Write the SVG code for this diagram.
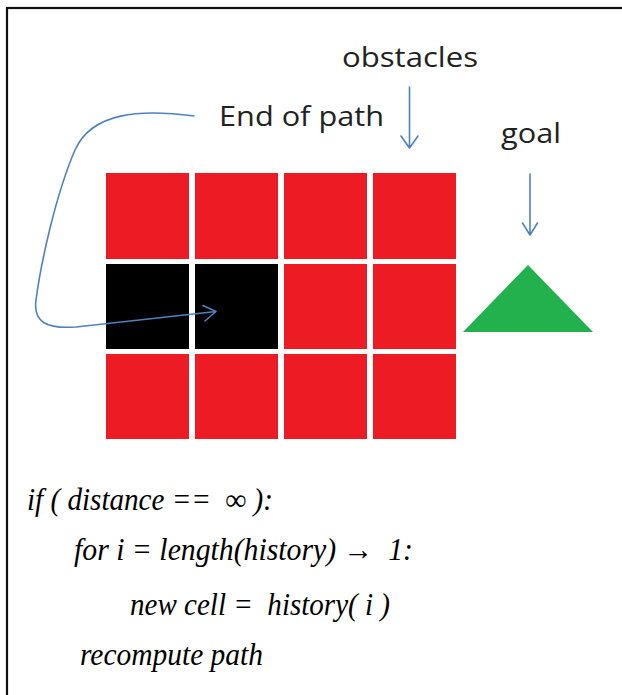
<svg xmlns="http://www.w3.org/2000/svg" width="622" height="695" viewBox="0 0 622 695">
  <style>
    .label { font-family: "Open Sans", "Noto Sans", sans-serif; font-size: 27px; fill: #222; }
    .code { font-family: "Liberation Serif", "Times New Roman", serif; font-style: italic; font-size: 31px; fill: #000; white-space: pre; }
    .obstacle { fill: #ED1C24; }
    .visited { fill: #000; }
    .pointer { fill: none; stroke: #4F81BD; stroke-width: 1.6; stroke-linecap: round; stroke-linejoin: round; }
  </style>

  <rect width="622" height="695" fill="#fff"/>
  <!-- outer frame (right and bottom edges run past the canvas) -->
  <rect x="7" y="8" width="700" height="800" fill="none" stroke="#111" stroke-width="2.2"/>

  <!-- grid of cells -->
  <g id="grid">
    <g id="cell-r1c1"><rect class="obstacle" x="106" y="173" width="83" height="86"/></g>
    <g id="cell-r1c2"><rect class="obstacle" x="195" y="173" width="83" height="86"/></g>
    <g id="cell-r1c3"><rect class="obstacle" x="284" y="173" width="83" height="86"/></g>
    <g id="cell-r1c4"><rect class="obstacle" x="373" y="173" width="83" height="86"/></g>
    <g id="cell-r2c1"><rect class="visited" x="106" y="264" width="83" height="85"/></g>
    <g id="cell-r2c2"><rect class="visited" x="195" y="264" width="83" height="85"/></g>
    <g id="cell-r2c3"><rect class="obstacle" x="284" y="264" width="83" height="85"/></g>
    <g id="cell-r2c4"><rect class="obstacle" x="373" y="264" width="83" height="85"/></g>
    <g id="cell-r3c1"><rect class="obstacle" x="106" y="354" width="83" height="85"/></g>
    <g id="cell-r3c2"><rect class="obstacle" x="195" y="354" width="83" height="85"/></g>
    <g id="cell-r3c3"><rect class="obstacle" x="284" y="354" width="83" height="85"/></g>
    <g id="cell-r3c4"><rect class="obstacle" x="373" y="354" width="83" height="85"/></g>
  </g>

  <!-- goal marker -->
  <g id="goal">
    <polygon points="528,265 593,332 463,332" fill="#22B14C"/>
  </g>

  <!-- labels -->
  <g id="label-obstacles"><text class="label" x="342" y="66.5" textLength="136" lengthAdjust="spacingAndGlyphs">obstacles</text></g>
  <g id="label-end"><text class="label" x="219" y="126" textLength="165" lengthAdjust="spacingAndGlyphs">End of path</text></g>
  <g id="label-goal"><text class="label" x="501" y="143" textLength="60" lengthAdjust="spacingAndGlyphs">goal</text></g>

  <!-- pointers -->
  <g id="connectors">
    <path class="pointer" d="M409.5,87 L409.5,148 M401,136 L409.5,148 L418,136"/>
    <path class="pointer" d="M530,174 L530,235 M522.5,223 L530,235 L537.5,223"/>
    <path class="pointer" d="M194,116 C140,109 92,112 75,150 C56,194 41,262 36,300 C33,322 46,329 76,327 L216,311.5 M203,305.5 L216,311.5 L205,321"/>
  </g>

  <!-- pseudocode -->
  <g id="code" xml:space="preserve">
    <text class="code" x="27" y="510" textLength="246" lengthAdjust="spacingAndGlyphs">if ( distance ==  ∞ ):</text>
    <text class="code" x="74" y="560" textLength="339" lengthAdjust="spacingAndGlyphs">for i = length(history) →  1:</text>
    <text class="code" x="130" y="615" textLength="260" lengthAdjust="spacingAndGlyphs">new cell =  history( i )</text>
    <text class="code" x="80" y="665" textLength="183" lengthAdjust="spacingAndGlyphs">recompute path</text>
  </g>
</svg>
